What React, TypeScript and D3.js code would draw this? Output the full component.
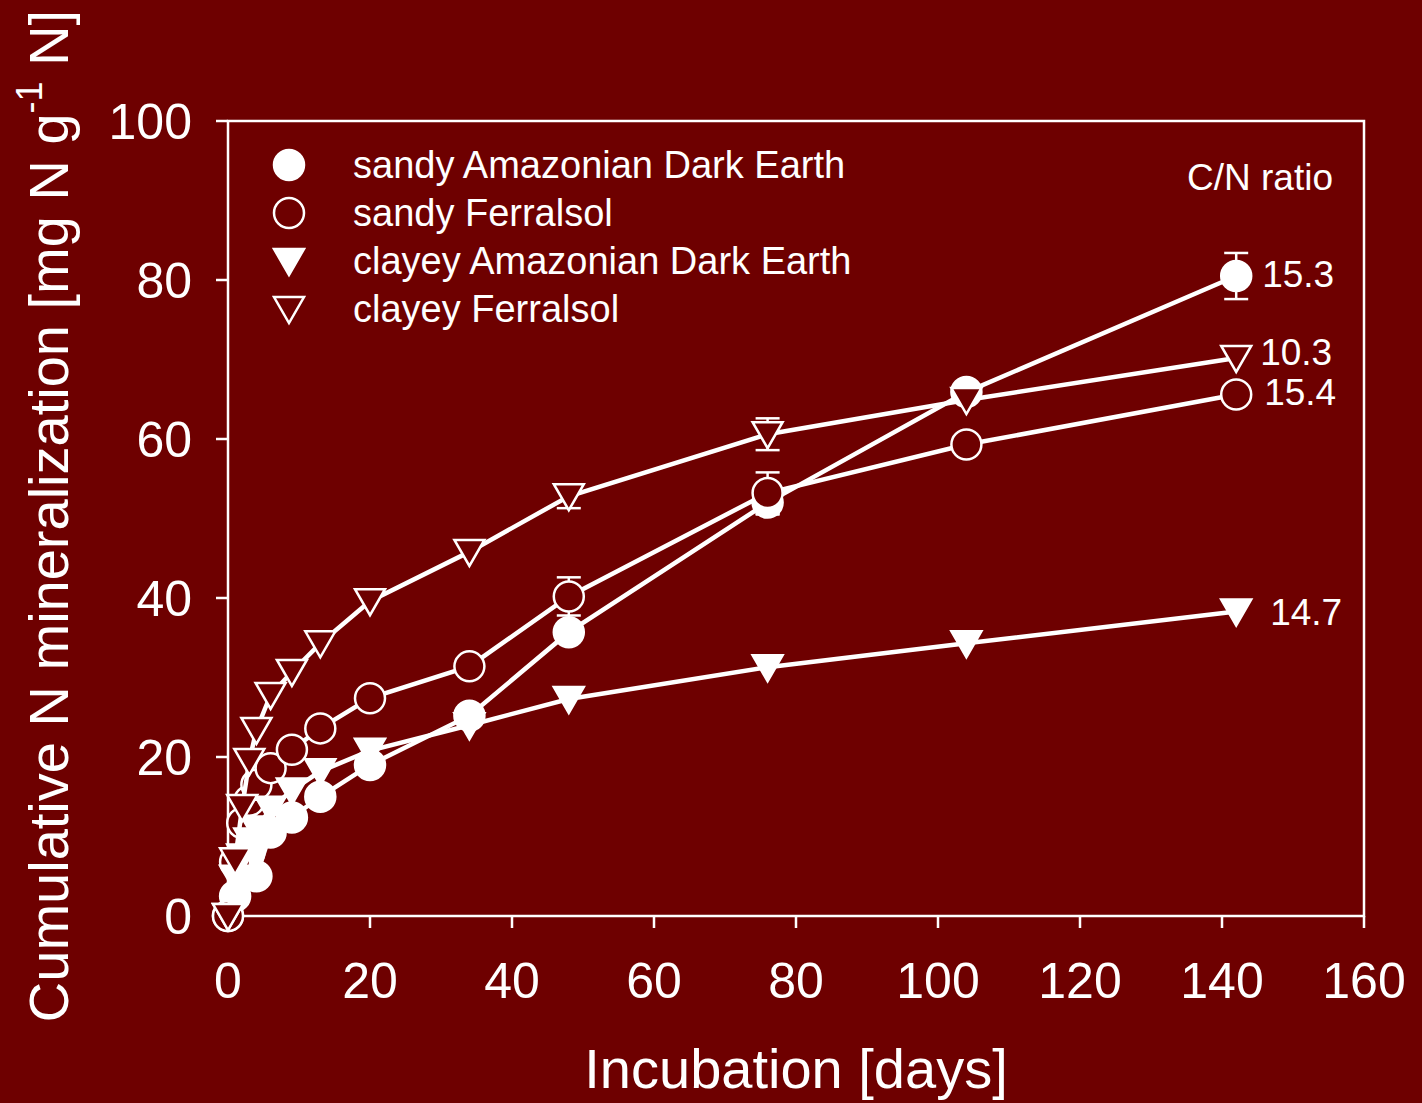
import React from "react";
import * as d3 from "d3";

// incubation days (sampling dates)
const days = [0, 1, 2, 3, 4, 6, 9, 13, 20, 34, 48, 76, 104, 142];

// cumulative N mineralization values per soil
const sandyADE = [0, 2.5, 6, 8, 5, 10.5, 12.4, 15, 19, 25.2, 35.7, 52, 65.9, 80.5];
const sandyFerralsol = [0, 6.8, 11.7, 14.5, 16.5, 18.6, 20.9, 23.6, 27.4, 31.4, 40.2, 53.2, 59.3, 65.6];
const clayeyADE = [0, 4.8, 7.5, 9.5, 11, 13.5, 15.8, 18.2, 20.8, 24, 27.3, 31.3, 34.3, 38.3];
const clayeyFerralsol = [0, 7, 13.7, 19.5, 23.4, 27.8, 30.7, 34.3, 39.6, 45.8, 52.8, 60.6, 64.9, 70.2];

// standard errors (0 = no visible bar)
const sandyADEErr = [0, 0, 0, 0, 0, 0, 0, 0, 0, 0, 0, 1.5, 0, 2.9];
const sandyFerralsolErr = [0, 0, 0, 0, 0, 0, 0, 0, 0, 0, 2.4, 2.6, 0, 0];
const clayeyADEErr = [0, 0, 0, 0, 0, 0, 0, 0, 0, 0, 0, 0, 0, 0];
const clayeyFerralsolErr = [0, 0, 0, 0, 0, 0, 0, 0, 0, 0, 1.5, 2.0, 0, 0];

const seriesNames = ["sandy Amazonian Dark Earth", "sandy Ferralsol", "clayey Amazonian Dark Earth", "clayey Ferralsol"];
const cnRatios = ["15.3", "15.4", "14.7", "10.3"];

const xTicks = [0, 20, 40, 60, 80, 100, 120, 140, 160];
const yTicks = [0, 20, 40, 60, 80, 100];

const BG = "#6e0000";
const FONT = "'Liberation Sans', Arial, sans-serif";

const width = 1422;
const height = 1103;
const margin = { left: 228, right: 58, top: 121, bottom: 187 };

export default function App() {
    const x = d3.scaleLinear().domain([0, 160]).range([margin.left, width - margin.right]);
    const y = d3.scaleLinear().domain([0, 100]).range([height - margin.bottom, margin.top]);

    const series = [
        { name: seriesNames[0], values: sandyADE, err: sandyADEErr, shape: "circle", filled: true, cn: cnRatios[0], dx: 26, dy: -2 },
        { name: seriesNames[1], values: sandyFerralsol, err: sandyFerralsolErr, shape: "circle", filled: false, cn: cnRatios[1], dx: 28, dy: -2 },
        { name: seriesNames[2], values: clayeyADE, err: clayeyADEErr, shape: "tri", filled: true, cn: cnRatios[2], dx: 34, dy: 0 },
        { name: seriesNames[3], values: clayeyFerralsol, err: clayeyFerralsolErr, shape: "tri", filled: false, cn: cnRatios[3], dx: 24, dy: -6 },
    ];

    const line = d3.line<number>()
        .x((d, i) => x(days[i]))
        .y((d) => y(d));

    const tri = "M-15,-12L15,-12L0,14Z";

    const marker = (shape: string, filled: boolean, cx: number, cy: number, key: any) => {
        const fill = filled ? "#fff" : BG;
        if (shape === "circle") {
            return <circle key={key} cx={cx} cy={cy} r={15} fill={fill} stroke="#fff" strokeWidth={2.5} />;
        }
        return <path key={key} d={tri} transform={`translate(${cx},${cy})`} fill={fill} stroke="#fff" strokeWidth={2.5} />;
    };

    const x0 = x(0), x1 = x(160), y0 = y(0), y1 = y(100);

    return (
        <svg width={width} height={height} style={{ position: "absolute", left: 0, top: 0, background: BG }} fontFamily={FONT}>
            <rect x={0} y={0} width={width} height={height} fill={BG} />

            {/* frame */}
            <rect x={x0} y={y1} width={x1 - x0} height={y0 - y1} fill="none" stroke="#fff" strokeWidth={2.5} />

            {/* x axis */}
            {xTicks.map((t) => (
                <g key={"xt" + t}>
                    <line x1={x(t)} x2={x(t)} y1={y0} y2={y0 + 12} stroke="#fff" strokeWidth={2.5} />
                    <text x={x(t)} y={y0 + 82} fill="#fff" fontSize={50} textAnchor="middle">{t}</text>
                </g>
            ))}
            {/* y axis */}
            {yTicks.map((t) => (
                <g key={"yt" + t}>
                    <line x1={x0 - 12} x2={x0} y1={y(t)} y2={y(t)} stroke="#fff" strokeWidth={2.5} />
                    <text x={x0 - 36} y={y(t) + 18} fill="#fff" fontSize={50} textAnchor="end">{t}</text>
                </g>
            ))}

            {/* axis titles */}
            <text x={(x0 + x1) / 2} y={1088} fill="#fff" fontSize={56} textAnchor="middle">Incubation [days]</text>
            <text transform={`translate(68,${516}) rotate(-90)`} fill="#fff" fontSize={56} textAnchor="middle">
                Cumulative N mineralization [mg N g<tspan fontSize={36} dy={-26}>-1</tspan><tspan dy={26}> N]</tspan>
            </text>

            {/* data */}
            {series.map((s, si) => (
                <g key={"s" + si}>
                    <path d={line(s.values) || ""} fill="none" stroke="#fff" strokeWidth={4.5} />
                    {s.values.map((v, i) => s.err[i] > 0 ? (
                        <g key={"e" + i}>
                            <line x1={x(days[i])} x2={x(days[i])} y1={y(v + s.err[i])} y2={y(v - s.err[i])} stroke="#fff" strokeWidth={2.5} />
                            <line x1={x(days[i]) - 12} x2={x(days[i]) + 12} y1={y(v + s.err[i])} y2={y(v + s.err[i])} stroke="#fff" strokeWidth={2.5} />
                            <line x1={x(days[i]) - 12} x2={x(days[i]) + 12} y1={y(v - s.err[i])} y2={y(v - s.err[i])} stroke="#fff" strokeWidth={2.5} />
                        </g>
                    ) : null)}
                    {s.values.map((v, i) => marker(s.shape, s.filled, x(days[i]), y(v), "m" + i))}
                    <text x={x(days[days.length - 1]) + s.dx} y={y(s.values[s.values.length - 1]) + 13 + s.dy} fill="#fff" fontSize={37}>{s.cn}</text>
                </g>
            ))}

            {/* legend */}
            {series.map((s, i) => (
                <g key={"l" + i}>
                    {marker(s.shape, s.filled, 289, 165 + i * 48, "lm")}
                    <text x={353} y={165 + i * 48 + 13} fill="#fff" fontSize={38}>{s.name}</text>
                </g>
            ))}
            <text x={1333} y={190} fill="#fff" fontSize={37} textAnchor="end">C/N ratio</text>
        </svg>
    );
}
